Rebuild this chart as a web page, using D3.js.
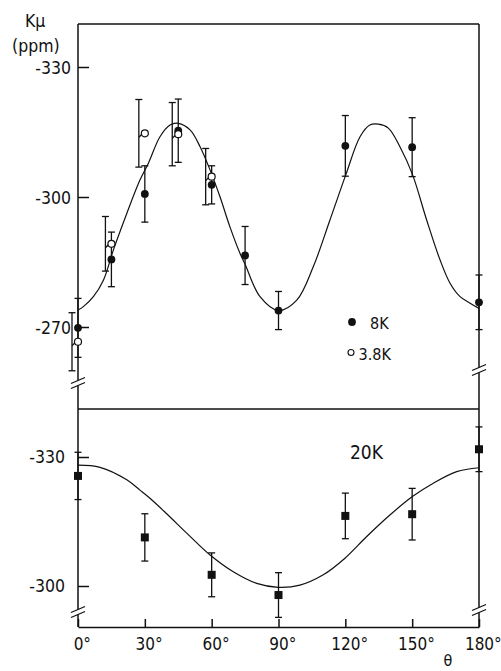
<!DOCTYPE html>
<html><head><meta charset="utf-8">
<script src="https://cdn.jsdelivr.net/npm/d3@7"></script>
<style>
html,body{margin:0;padding:0;background:#fff;}
svg{display:block;}
</style></head><body>
<svg id="chart" width="501" height="671"></svg>
<script>
// ---------- data ----------
const xTicks = [0, 30, 60, 90, 120, 150, 180];
const yTicksTop = [-330, -300, -270];
const yTicksBottom = [-330, -300];

const angles8K = [0, 15, 30, 45, 60, 75, 90, 120, 150, 180];
const values8K = [-269.8, -285.6, -300.7, -315.3, -302.8, -286.5, -273.8, -311.8, -311.5, -275.7];
const errors8K = [6.8, 6.3, 6.5, 7.3, 4.4, 6.7, 4.4, 7.0, 6.8, 6.3];

const angles38K = [0, 15, 30, 45, 60];
const values38K = [-266.6, -289.2, -314.7, -314.5, -304.7];
const errors38K = [6.7, 6.3, 7.8, 7.3, 6.5];

const curveTopAngles = [0, 2.4, 6.9, 11.4, 15.9, 21.9, 27.8, 31.6, 36.8, 41.3, 45, 50.3, 54.8, 59.3, 63.7, 68.2, 72.7, 75, 81.7, 90, 98.2, 105.6, 113.1, 120.2, 126.6, 131, 134.8, 139.3, 144.5, 150.2, 156.5, 162.5, 167, 171.5, 176, 180];
const curveTopValues = [-273.9, -274.7, -277.0, -280.8, -287.8, -296.2, -303.9, -307.8, -313.9, -316.6, -317.0, -315.5, -311.6, -306.2, -300.1, -293.1, -287.0, -284.5, -277.0, -273.8, -276.2, -283.9, -294.7, -305.1, -313.9, -316.6, -316.8, -315.9, -311.6, -305.1, -294.7, -285.5, -280.1, -277.0, -275.5, -274.3];

const angles20K = [0, 30, 60, 90, 120, 150, 180];
const values20K = [-325.6, -311.3, -302.6, -297.9, -316.3, -316.7, -331.8];
const errors20K = [5.5, 5.5, 5.1, 5.2, 5.3, 6.0, 5.2];

const curveBottomAngles = [0, 9.9, 21.9, 27.8, 32.3, 39.8, 48.8, 59.3, 69.7, 80.2, 89.8, 99.6, 110.1, 119.7, 129.6, 140, 150.1, 159.5, 170, 180];
const curveBottomValues = [-328.1, -327.6, -324.7, -322.3, -320.4, -316.8, -312.3, -307.2, -303.3, -300.6, -299.7, -300.2, -302.6, -306.4, -311.5, -316.5, -320.8, -323.9, -326.6, -327.5];

// ---------- layout ----------
const INK = "#111";
const FONT = "'DejaVu Sans Condensed','DejaVu Sans',sans-serif";
const L = 78, R = 479, TOP = 24, MID = 409, BOT = 627;

const svg = d3.select("#chart");
svg.append("rect").attr("width", 501).attr("height", 671).attr("fill", "#fff");

const x = d3.scaleLinear().domain([0, 180]).range([L, R]);
const yTop = d3.scaleLinear().domain([-330, -270]).range([67, 327]);
const yBot = d3.scaleLinear().domain([-330, -300]).range([457, 586]);

const g = svg.append("g").attr("stroke-linecap", "butt");

function seg(x1, y1, x2, y2, w) {
  g.append("line").attr("x1", x1).attr("y1", y1).attr("x2", x2).attr("y2", y2)
    .attr("stroke", INK).attr("stroke-width", w || 1.5);
}

// frame lines
seg(L, TOP, R, TOP);
seg(L, MID, R, MID);
// left axis with breaks
seg(L, TOP, L, 380.5);
seg(L, 385.5, L, 609.5);
seg(L, 614.5, L, BOT);
// right axis with breaks
seg(R, TOP, R, 367.5);
seg(R, 372.5, R, 607.5);
seg(R, 612.5, R, BOT);

function brk(cx, cy) {
  [-2.5, 2.5].forEach(o => seg(cx - 7, cy + o + 3, cx + 7, cy + o - 3, 1.3));
}
brk(L, 383); brk(L, 612); brk(R, 370); brk(R, 610);

// y axes
function styleAxis(sel, size) {
  sel.select(".domain").remove();
  sel.attr("font-family", FONT).attr("font-size", size);
  sel.selectAll("line").attr("stroke", INK).attr("stroke-width", 1.5);
  sel.selectAll("text").attr("fill", INK);
}
const axTop = svg.append("g").attr("transform", `translate(${L},0)`)
  .call(d3.axisLeft(yTop).tickValues(yTicksTop).tickFormat(d => String(d))
    .tickSizeInner(-11).tickSizeOuter(0).tickPadding(7));
styleAxis(axTop, 17.5);
axTop.selectAll("text").attr("dy", "0.36em");

const axBot = svg.append("g").attr("transform", `translate(${L},0)`)
  .call(d3.axisLeft(yBot).tickValues(yTicksBottom).tickFormat(d => String(d))
    .tickSizeInner(-11).tickSizeOuter(0).tickPadding(13));
styleAxis(axBot, 17.5);
axBot.selectAll("text").attr("dy", "0.32em");

// x axis
const axX = svg.append("g").attr("transform", `translate(0,${BOT})`)
  .call(d3.axisBottom(x).tickValues(xTicks).tickFormat(d => String(d))
    .tickSizeInner(-8).tickSizeOuter(0).tickPadding(11));
axX.select(".domain").attr("stroke", INK).attr("stroke-width", 1.5);
axX.attr("font-family", FONT).attr("font-size", 17);
axX.selectAll("line").attr("stroke", INK).attr("stroke-width", 1.5);
axX.selectAll("text").attr("fill", INK).each(function(d) {
  const t = d3.select(this);
  const w = this.getComputedTextLength();
  t.attr("text-anchor", "start").attr("x", -w / 2);
  t.append("tspan").text("°");
});

// curves
const lineTop = d3.line().x(d => x(d[0])).y(d => yTop(d[1])).curve(d3.curveCatmullRom.alpha(0.5));
const lineBot = d3.line().x(d => x(d[0])).y(d => yBot(d[1])).curve(d3.curveCatmullRom.alpha(0.5));
svg.append("path").attr("d", lineTop(d3.zip(curveTopAngles, curveTopValues)))
  .attr("fill", "none").attr("stroke", INK).attr("stroke-width", 1.2);
svg.append("path").attr("d", lineBot(d3.zip(curveBottomAngles, curveBottomValues)))
  .attr("fill", "none").attr("stroke", INK).attr("stroke-width", 1.2);

// error bars
const eb = svg.append("g").attr("stroke", INK).attr("stroke-width", 1.3).attr("fill", "none");
function errBar(cx, y, v, e) {
  const y1 = y(v - e), y2 = y(v + e);
  eb.append("line").attr("x1", cx).attr("x2", cx).attr("y1", y1).attr("y2", y2);
  eb.append("line").attr("x1", cx - 3.5).attr("x2", cx + 3.5).attr("y1", y1).attr("y2", y1);
  eb.append("line").attr("x1", cx - 3.5).attr("x2", cx + 3.5).attr("y1", y2).attr("y2", y2);
}
angles38K.forEach((a, i) => {
  const cx = x(a) - 6;
  errBar(cx, yTop, values38K[i], errors38K[i]);
  eb.append("line").attr("x1", cx).attr("y1", yTop(values38K[i]) + 4)
    .attr("x2", x(a) - 2).attr("y2", yTop(values38K[i]));
});
angles8K.forEach((a, i) => errBar(x(a), yTop, values8K[i], errors8K[i]));
angles20K.forEach((a, i) => errBar(x(a), yBot, values20K[i], errors20K[i]));

// markers
svg.append("g").selectAll("circle").data(d3.zip(angles8K, values8K)).join("circle")
  .attr("cx", d => x(d[0])).attr("cy", d => yTop(d[1])).attr("r", 3.9).attr("fill", INK);
svg.append("g").selectAll("circle").data(d3.zip(angles38K, values38K)).join("circle")
  .attr("cx", d => x(d[0])).attr("cy", d => yTop(d[1])).attr("r", 3.5)
  .attr("fill", "#fff").attr("stroke", INK).attr("stroke-width", 1.2);
svg.append("g").selectAll("rect").data(d3.zip(angles20K, values20K)).join("rect")
  .attr("x", d => x(d[0]) - 4).attr("y", d => yBot(d[1]) - 4)
  .attr("width", 8).attr("height", 8).attr("fill", INK);

// legend
const txt = svg.append("g").attr("font-family", FONT).attr("fill", INK);
svg.append("circle").attr("cx", 352).attr("cy", 322).attr("r", 3.9).attr("fill", INK);
txt.append("text").attr("x", 370).attr("y", 328.5).attr("font-size", 16).text("8K");
svg.append("circle").attr("cx", 351).attr("cy", 352.5).attr("r", 3).attr("fill", "#fff")
  .attr("stroke", INK).attr("stroke-width", 1.1);
txt.append("text").attr("x", 358.5).attr("y", 359.5).attr("font-size", 16).text("3.8K");
txt.append("text").attr("x", 350).attr("y", 459).attr("font-size", 19).text("20K");

// axis titles
txt.append("text").attr("x", 25).attr("y", 27).attr("font-size", 17.5).text("Kμ");
txt.append("text").attr("x", 12).attr("y", 52).attr("font-size", 17.5).text("(ppm)");
txt.append("text").attr("x", 448).attr("y", 666).attr("font-size", 16).attr("text-anchor", "middle").text("θ");
</script>
</body></html>
